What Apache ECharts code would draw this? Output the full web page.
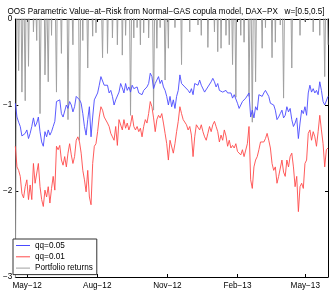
<!DOCTYPE html>
<html>
<head>
<meta charset="utf-8">
<script src="https://cdn.jsdelivr.net/npm/echarts@6/dist/echarts.min.js"></script>
<style>html,body{margin:0;padding:0;background:#fff}#c{width:332px;height:305px}</style>
</head>
<body>
<div id="c"></div>
<script>
// ---- data ----
var titleText = 'OOS Parametric Value\u2212at\u2212Risk from Normal\u2212GAS copula model, DAX\u2212PX   w=[0.5,0.5]';
var startDate = Date.UTC(2012, 3, 15, 12);   // first observation
var endDate   = Date.UTC(2013, 4, 30, 20);   // last observation
var tickDates  = [Date.UTC(2012,4,1), Date.UTC(2012,7,1), Date.UTC(2012,10,1), Date.UTC(2013,1,1), Date.UTC(2013,4,1)];
var tickLabels = ['May\u221212', 'Aug\u221212', 'Nov\u221212', 'Feb\u221213', 'May\u221213'];
var yTicks = [0, -1, -2, -3];
var seriesNames = ['qq=0.05', 'qq=0.01', 'Portfolio returns'];

var var05 = [
 -0.98,-1.14,-1.20,-1.25,-1.36,-1.38,-1.33,-1.29,-1.39,-1.33,
 -1.25,-1.15,-1.25,-1.21,-1.14,-1.31,-1.43,-1.48,-1.31,-1.37,
 -1.29,-1.35,-1.31,-1.25,-1.19,-0.96,-0.98,-0.94,-1.10,-1.14,
 -1.12,-1.00,-1.04,-0.96,-1.00,-1.08,-1.02,-0.90,-0.88,-0.94,
 -0.98,-1.10,-1.25,-1.35,-1.17,-1.02,-1.37,-1.14,-0.94,-0.96,
 -0.86,-0.77,-0.67,-0.69,-0.77,-0.79,-0.77,-0.86,-0.83,-0.90,
 -1.00,-0.94,-0.92,-0.85,-0.75,-0.80,-0.86,-0.75,-0.83,-0.79,
 -0.85,-0.77,-0.81,-0.83,-0.79,-0.86,-0.85,-0.88,-0.83,-0.85,
 -0.79,-0.75,-0.63,-0.67,-0.81,-0.75,-0.71,-0.67,-0.75,-0.71,
 -0.79,-0.83,-0.90,-1.00,-0.90,-1.02,-0.94,-1.04,-0.90,-0.83,
 -0.65,-0.75,-0.73,-0.79,-0.77,-0.83,-0.86,-0.81,-0.88,-0.75,
 -0.73,-0.77,-0.71,-0.77,-0.79,-0.85,-0.83,-0.79,-0.77,-0.73,
 -0.69,-0.73,-0.79,-0.75,-0.83,-0.85,-0.85,-0.86,-0.83,-0.86,
 -0.88,-0.86,-0.92,-0.88,-0.86,-0.98,-1.04,-1.00,-0.96,-0.98,
 -0.92,-0.94,-0.86,-1.14,-1.06,-1.15,-1.02,-1.06,-0.88,-0.86,
 -0.90,-0.86,-0.83,-0.85,-0.90,-0.98,-0.96,-1.00,-1.06,-1.17,
 -1.14,-1.10,-1.06,-1.15,-1.12,-1.02,-1.08,-1.04,-1.17,-1.25,
 -1.21,-1.15,-1.39,-1.21,-1.06,-1.10,-1.02,-1.12,-0.86,-0.77,
 -0.85,-0.81,-0.86,-0.83,-0.88,-0.73,-0.83,-0.96,-1.00,-0.98,-0.90
];
var var01 = [
 -1.48,-1.72,-1.76,-1.83,-2.03,-2.08,-1.95,-1.87,-2.10,-1.93,
 -2.10,-1.68,-1.91,-1.93,-1.68,-1.95,-2.10,-2.18,-1.99,-2.07,
 -1.95,-2.14,-1.97,-1.83,-1.99,-1.48,-1.52,-1.47,-1.64,-1.70,
 -1.60,-1.72,-1.56,-1.45,-1.58,-1.68,-1.60,-1.41,-1.37,-1.43,
 -1.56,-1.76,-1.87,-2.01,-1.76,-2.07,-2.16,-1.68,-1.48,-1.45,
 -1.31,-1.14,-1.02,-1.06,-1.14,-1.12,-1.21,-1.25,-1.33,-1.37,
 -1.41,-1.25,-1.47,-1.17,-1.15,-1.29,-1.17,-1.27,-1.21,-1.29,
 -1.23,-1.12,-1.25,-1.29,-1.25,-1.31,-1.27,-1.37,-1.25,-1.17,
 -1.21,-1.10,-0.96,-1.02,-1.15,-1.31,-1.17,-1.12,-1.15,-1.10,
 -1.21,-1.33,-1.45,-1.64,-1.41,-1.43,-1.56,-1.45,-1.31,-1.19,
 -1.02,-1.10,-1.17,-1.15,-1.23,-1.29,-1.25,-1.35,-1.60,-1.37,
 -1.23,-1.21,-1.29,-1.23,-1.31,-1.37,-1.41,-1.33,-1.25,-1.31,
 -1.23,-1.19,-1.25,-1.31,-1.43,-1.35,-1.41,-1.29,-1.36,-1.48,
 -1.41,-1.50,-1.47,-1.50,-1.45,-1.54,-1.52,-1.58,-1.52,-1.60,
 -1.58,-1.45,-1.25,-1.87,-1.97,-1.72,-1.64,-1.60,-1.52,-1.43,
 -1.41,-1.43,-1.39,-1.33,-1.41,-1.50,-1.68,-1.76,-1.72,-1.91,
 -1.83,-1.81,-1.64,-1.78,-1.83,-1.64,-1.72,-1.60,-1.56,-1.72,
 -1.95,-1.83,-2.24,-1.95,-1.91,-1.97,-1.68,-1.64,-1.33,-1.29,
 -1.41,-1.31,-1.37,-1.48,-1.31,-1.12,-1.29,-1.45,-1.72,-1.52,-1.50
];
var returns = [
 -3.2,0.8,-0.6,1.1,-0.85,0.7,-0.95,1.3,-0.55,0.9,
 1.0,-0.15,0.5,-0.25,1.2,-1.1,0.7,1.4,-0.65,0.4,
 -0.73,0.9,-0.19,1.1,0.6,-0.85,1.5,0.8,-0.4,1.0,
 0.7,1.3,-1.17,0.9,0.5,-0.3,1.2,0.8,1.6,-1.41,
 0.9,-0.25,1.1,0.7,-0.57,1.0,0.6,-0.2,1.3,-0.16,
 0.8,1.2,0.5,-0.45,0.9,1.4,-0.4,0.7,1.1,-0.22,
 0.6,1.0,-0.3,0.8,1.3,-0.42,0.9,-0.19,0.6,1.0,
 -1.12,0.8,-0.22,1.1,-0.10,0.7,-0.30,1.2,-0.16,0.9,
 1.3,-0.22,0.6,1.0,-1.06,0.8,-0.34,0.7,-0.10,1.0,
 0.9,-0.71,0.6,-0.34,1.2,0.8,1.4,-0.10,0.7,1.1,
 0.9,-0.53,1.3,0.6,1.0,0.8,-0.15,1.2,0.7,1.5,
 0.9,-0.07,0.6,-0.19,1.1,0.8,1.3,-0.33,0.7,1.0,
 0.6,-0.15,0.9,-0.38,1.2,-0.34,0.8,1.1,-0.19,0.7,
 -0.30,0.8,-0.53,0.9,-0.91,1.2,0.6,-0.19,1.0,-0.27,
 0.8,1.3,-0.9,0.7,-1.2,1.1,-0.73,0.9,1.4,0.6,
 -0.34,1.0,-0.10,0.8,1.2,0.7,-0.45,1.1,-0.27,0.9,
 1.3,-0.07,0.7,-0.92,1.0,0.6,1.2,0.8,-0.57,1.1,
 0.7,1.4,0.9,-0.19,1.0,0.6,-0.03,1.2,0.8,-0.01,
 1.1,-0.15,0.7,1.3,0.9,-0.19,1.0,0.6,-0.67,0.8,-0.30
];

// ---- build ----
var n = var05.length;
var dates = [];
for (var i = 0; i < n; i++) dates.push(startDate + i * (endDate - startDate) / (n - 1));
function pair(arr) { return arr.map(function (v, i) { return [dates[i], v]; }); }

var FONT = '"Liberation Sans", Arial, Helvetica, sans-serif';
var FS = 8.2;
var chart = echarts.init(document.getElementById('c'), null, {renderer: 'canvas'});
var axisCol = '#000';
function xLabel(v) {
  for (var i = 0; i < tickDates.length; i++) if (Math.abs(tickDates[i] - v) < 3600000) return tickLabels[i];
  return '';
}
var option = {
  animation: false,
  backgroundColor: '#fff',
  title: {
    text: titleText, left: 'center', top: 3,
    textStyle: {fontFamily: FONT, fontSize: 8.15, fontWeight: 'normal', color: '#000'}
  },
  grid: {left: 11, right: 4, top: 19, bottom: 28, containLabel: false},
  legend: {
    orient: 'vertical', left: 13, top: 239,
    data: seriesNames,
    icon: 'rect', itemWidth: 14, itemHeight: 1, itemGap: 2.3,
    padding: [2, 4, 2, 3],
    borderColor: '#333', borderWidth: 1, backgroundColor: '#fff',
    textStyle: {fontFamily: FONT, fontSize: FS, color: '#000', lineHeight: 9}
  },
  xAxis: [{
    type: 'value', min: startDate, max: endDate, position: 'bottom',
    axisLine: {show: true, onZero: false, lineStyle: {color: axisCol, width: 1}},
    axisTick: {show: true, inside: true, length: 3, customValues: tickDates, lineStyle: {color: axisCol}},
    axisLabel: {customValues: tickDates, formatter: xLabel, fontFamily: FONT, fontSize: FS, color: '#000', margin: 5, showMinLabel: true, showMaxLabel: true},
    splitLine: {show: false}
  }, {
    type: 'value', min: startDate, max: endDate, position: 'top',
    axisLine: {show: true, onZero: false, lineStyle: {color: axisCol, width: 1}},
    axisTick: {show: true, inside: true, length: 3, customValues: tickDates, lineStyle: {color: axisCol}},
    axisLabel: {show: false},
    splitLine: {show: false}
  }],
  yAxis: [{
    type: 'value', min: -3, max: 0, interval: 1, position: 'left',
    axisLine: {show: true, onZero: false, lineStyle: {color: axisCol, width: 1}},
    axisTick: {show: true, inside: true, length: 3, lineStyle: {color: axisCol}},
    axisLabel: {formatter: function (v) { return yTicks.indexOf(v) >= 0 ? String(v).replace('-', '\u2212') : ''; },
      fontFamily: FONT, fontSize: FS, color: '#000', margin: 3},
    splitLine: {show: false}
  }, {
    type: 'value', min: -3, max: 0, interval: 1, position: 'right',
    axisLine: {show: true, onZero: false, lineStyle: {color: axisCol, width: 1}},
    axisTick: {show: true, inside: true, length: 3, lineStyle: {color: axisCol}},
    axisLabel: {show: false},
    splitLine: {show: false}
  }],
  series: [
    {name: seriesNames[2], type: 'line', data: pair(returns), showSymbol: false, symbol: 'none', clip: true,
     lineStyle: {color: '#a0a0a0', width: 1}, itemStyle: {color: '#a0a0a0'}, z: 1},
    {name: seriesNames[0], type: 'line', data: pair(var05), showSymbol: false, symbol: 'none', clip: true,
     lineStyle: {color: '#4a4aff', width: 0.9}, itemStyle: {color: '#4a4aff'}, z: 2},
    {name: seriesNames[1], type: 'line', data: pair(var01), showSymbol: false, symbol: 'none', clip: true,
     lineStyle: {color: '#ff4a4a', width: 0.9}, itemStyle: {color: '#ff4a4a'}, z: 3}
  ]
};
chart.setOption(option);
</script>
</body>
</html>
